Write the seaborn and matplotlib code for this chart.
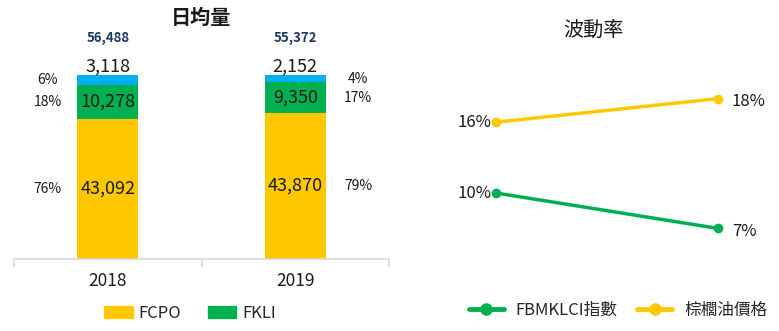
import matplotlib
matplotlib.use('Agg')
import numpy as np
import pandas as pd
import seaborn as sns
import matplotlib.pyplot as plt
from matplotlib.lines import Line2D
from matplotlib.patches import Patch

# ---- data ----
years = ['2018', '2019']
fcpo = [43092, 43870]
fkli = [10278, 9350]
other = [3118, 2152]
totals = [56488, 55372]

vol_years = ['2018', '2019']
fbm_vol = [10, 7]
palm_vol = [16, 18]

# ---- style ----
sns.set_theme(style='white')
FAM = ['Noto Sans CJK TC', 'DejaVu Sans']
plt.rcParams['font.family'] = FAM

YEL = '#FFC800'
GRN = '#00B050'
BLU = '#00B0F0'
NAVY = '#1F3864'
TXT = '#1a1a1a'

W, H = 779, 331
fig = plt.figure(figsize=(W / 100, H / 100), dpi=100)


def rect(l, t, r, b):
    return [l / W, 1 - b / H, (r - l) / W, (b - t) / H]


# ---- left: 100% stacked bars ----
tot = np.array(totals, dtype=float)
s_fcpo = np.array(fcpo) / tot
s_fkli = np.array(fkli) / tot
s_oth = np.array(other) / tot
df = pd.DataFrame({'year': years,
                   'c1': s_fcpo,
                   'c2': s_fcpo + s_fkli,
                   'c3': s_fcpo + s_fkli + s_oth})

ax1 = fig.add_axes(rect(14, 75, 389, 259))
for col, c in [('c3', BLU), ('c2', GRN), ('c1', YEL)]:
    sns.barplot(data=df, x='year', y=col, color=c, saturation=1, width=0.325,
                linewidth=0, ax=ax1)
ax1.set_xlim(-0.5, 1.5)
ax1.set_ylim(0, 1)
ax1.set_xlabel('')
ax1.set_ylabel('')
ax1.set_yticks([])
for s in ['left', 'right', 'top']:
    ax1.spines[s].set_visible(False)
ax1.spines['bottom'].set_color('#D9D9D9')
ax1.spines['bottom'].set_linewidth(1.2)
ax1.set_xticks([0, 1])
ax1.set_xticklabels(years, fontsize=12.5, color=TXT)
ax1.tick_params(axis='x', which='major', length=0, pad=9)
ax1.set_xticks([-0.5, 0.5, 1.5], minor=True)
ax1.tick_params(axis='x', which='minor', length=6, width=1.2, color='#D9D9D9',
                bottom=True)

for i in range(len(years)):
    # values inside segments
    ax1.text(i, s_fcpo[i] / 2, f'{fcpo[i]:,}', ha='center', va='center',
             fontsize=13, color=TXT)
    ax1.text(i, s_fcpo[i] + s_fkli[i] / 2, f'{fkli[i]:,}', ha='center',
             va='center', fontsize=13, color=TXT)
    ax1.text(i, 1.043, f'{other[i]:,}', ha='center', va='center',
             fontsize=13, color=TXT)
    ax1.text(i, 1.20, f'{totals[i]:,}', ha='center', va='center',
             fontsize=9.5, fontweight='bold', color=NAVY)
    px = i - 0.32 if i == 0 else i + 0.335
    ax1.text(px, s_fcpo[i] / 2, f'{s_fcpo[i]*100:.0f}%', ha='center',
             va='center', fontsize=10, color=TXT)
    ax1.text(px, s_fcpo[i] + s_fkli[i] / 2, f'{s_fkli[i]*100:.0f}%',
             ha='center', va='center', fontsize=10, color=TXT)
    ax1.text(px, 1 - s_oth[i] / 2, f'{s_oth[i]*100:.0f}%', ha='center',
             va='center', fontsize=10, color=TXT)

fig.text(201 / W, 1 - 17 / H, '日均量', ha='center', va='center',
         fontsize=14.5, fontweight='bold', color=TXT)

leg1 = fig.legend(handles=[Patch(color=YEL, label='FCPO'),
                           Patch(color=GRN, label='FKLI')],
                  loc='center', bbox_to_anchor=(190 / W, 1 - 313 / H),
                  ncol=2, frameon=False, fontsize=12, handlelength=1.7,
                  handleheight=0.7, handletextpad=0.35, columnspacing=1.6)

# ---- right: volatility lines ----
dfv = pd.DataFrame({'x': [0, 1, 0, 1],
                    'vol': fbm_vol + palm_vol,
                    'series': ['FBMKLCI指數'] * 2 + ['棕櫚油價格'] * 2})
ax2 = fig.add_axes(rect(420, 60, 779, 290))
sns.lineplot(data=dfv, x='x', y='vol', hue='series',
             palette={'FBMKLCI指數': GRN, '棕櫚油價格': YEL},
             marker='o', markersize=7, markeredgewidth=0, linewidth=2.5,
             legend=False, ax=ax2)
ax2.set_xlim(-76 / 222, 283 / 222)
ax2.set_ylim(10 - 97 / 11.8, 10 + 133 / 11.8)
ax2.axis('off')

for i in range(2):
    for vals in (fbm_vol, palm_vol):
        if i == 0:
            ax2.annotate(f'{vals[i]}%', (i, vals[i]), xytext=(-3, 0),
                         textcoords='offset points', ha='right', va='center',
                         fontsize=12, color=TXT)
        else:
            ax2.annotate(f'{vals[i]}%', (i, vals[i]), xytext=(10, -2),
                         textcoords='offset points', ha='left', va='center',
                         fontsize=12, color=TXT)

fig.text(593 / W, 1 - 30 / H, '波動率', ha='center', va='center',
         fontsize=14.5, color=TXT)

leg2 = fig.legend(handles=[Line2D([], [], color=GRN, lw=3.5, marker='o',
                                  markersize=8, label='FBMKLCI指數'),
                           Line2D([], [], color=YEL, lw=3.5, marker='o',
                                  markersize=8, label='棕櫚油價格')],
                  loc='center', bbox_to_anchor=(618 / W, 1 - 310 / H),
                  ncol=2, frameon=False, fontsize=12, handlelength=2.1,
                  handletextpad=0.7, columnspacing=1.2)

fig.savefig('out.png', dpi=100)
